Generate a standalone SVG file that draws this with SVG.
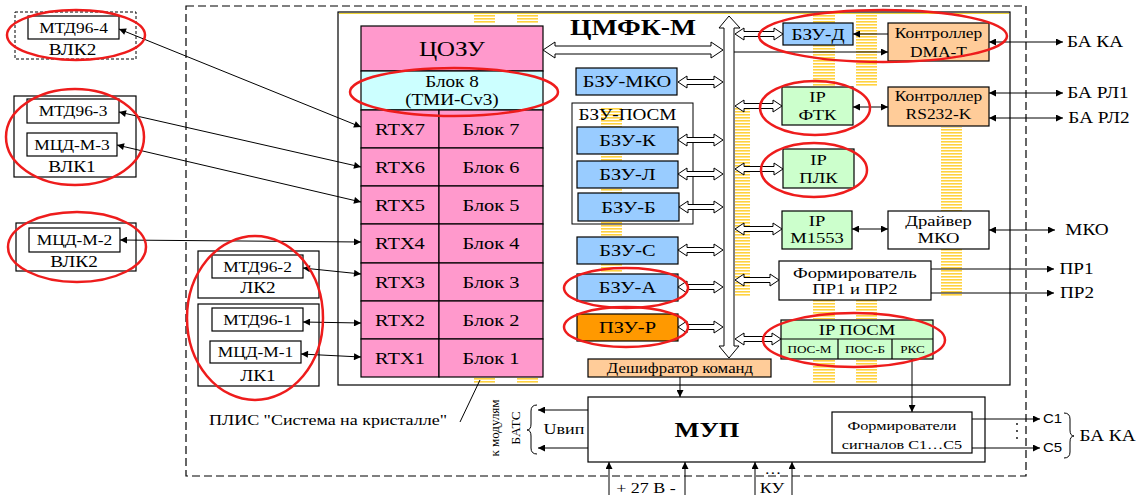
<svg xmlns="http://www.w3.org/2000/svg" width="1142" height="495" viewBox="0 0 1142 495">
<style>
.b{stroke:#000;stroke-width:1.2}
.t{font-family:"Liberation Serif","Times New Roman",serif;text-anchor:middle;fill:#000;transform-box:fill-box;transform-origin:center;transform:scaleX(1.2)}
.s{font-family:"Liberation Sans",Arial,sans-serif}
.r{font-family:"Liberation Serif","Times New Roman",serif;text-anchor:middle;fill:#000}
.ln{fill:none;stroke:#000;stroke-width:1}
.ha{fill:#fff;stroke:#000;stroke-width:1}
.red{fill:none;stroke:#EE1C1C;stroke-width:2.5}
.pk{fill:#FF99CC}
.bl{fill:#99CCFF}
.pc{fill:#FFCC99}
.gr{fill:#CCFFCC}
.wh{fill:#fff}
.ys{fill:url(#ys)}
</style>
<defs>
<pattern id="ys" width="6" height="3" patternUnits="userSpaceOnUse"><rect width="6" height="1.6" fill="#FFD23F"/></pattern>
<marker id="ah" viewBox="0 0 10 10" refX="10" refY="5" markerWidth="9" markerHeight="7" orient="auto-start-reverse" markerUnits="userSpaceOnUse"><path d="M0,0 L10,5 L0,10 z" fill="#000"/></marker>
</defs>
<rect width="1142" height="495" fill="#fff"/>

<!-- outer dashed frame -->
<rect x="186" y="6" width="840" height="470" fill="none" stroke="#000" stroke-width="1.2" stroke-dasharray="8,4"/>

<!-- ПЛИС box -->
<g id="plis">
<rect x="338" y="12" width="672" height="373" fill="#fff" stroke="#000" stroke-width="1.2"/>
<line x1="339" y1="13.5" x2="1009" y2="13.5" stroke="#E8C800" stroke-width="0.8"/>
</g>

<!-- yellow stripes -->
<g id="stripes">
<rect class="ys" x="474" y="14" width="21" height="10"/>
<rect class="ys" x="517" y="14" width="21" height="10"/>
<rect class="ys" x="474" y="378" width="21" height="6"/>
<rect class="ys" x="517" y="378" width="21" height="6"/>
<rect class="ys" x="601" y="107" width="21" height="165"/>
<rect class="ys" x="735" y="107" width="15" height="190"/>
<rect class="ys" x="813" y="14" width="22" height="73"/>
<rect class="ys" x="856" y="14" width="21" height="73"/>
<rect class="ys" x="941" y="127" width="21" height="170"/>
<rect class="ys" x="813" y="300" width="22" height="19"/>
<rect class="ys" x="856" y="300" width="21" height="19"/>
<rect class="ys" x="813" y="360" width="22" height="24"/>
<rect class="ys" x="856" y="360" width="21" height="24"/>
</g>

<text class="t" x="633" y="35" font-size="23" font-weight="bold">ЦМФК-М</text>

<!-- left external nodes -->
<g id="vlk2-top">
<rect x="15" y="12" width="121" height="47" fill="#fff" stroke="#000" stroke-width="1" stroke-dasharray="3,2"/>
<rect class="wh b" x="28" y="16" width="91" height="23"/>
<text class="t" x="73.5" y="33" font-size="14.5">МТД96-4</text>
<text class="t" x="72.5" y="55" font-size="16">ВЛК2</text>
</g>
<g id="vlk1">
<rect class="wh b" x="14" y="96" width="122" height="81"/>
<rect class="wh b" x="27" y="99" width="92" height="24"/>
<text class="t" x="73" y="116" font-size="14.5">МТД96-3</text>
<rect class="wh b" x="27" y="133" width="90" height="23"/>
<text class="t" x="72" y="150" font-size="14.5">МЦД-М-3</text>
<text class="t" x="72" y="172" font-size="16">ВЛК1</text>
</g>
<g id="vlk2-mid">
<rect class="wh b" x="16" y="223" width="120" height="48"/>
<rect class="wh b" x="29" y="228" width="91" height="24"/>
<text class="t" x="74.5" y="245" font-size="14.5">МЦД-М-2</text>
<text class="t" x="74" y="267" font-size="16">ВЛК2</text>
</g>
<g id="lk2">
<rect class="wh b" x="198" y="251" width="121" height="47"/>
<rect class="wh b" x="212" y="255" width="91" height="23"/>
<text class="t" x="257.5" y="272" font-size="14.5">МТД96-2</text>
<text class="t" x="258" y="293" font-size="16">ЛК2</text>
</g>
<g id="lk1">
<rect class="wh b" x="198" y="304" width="121" height="82"/>
<rect class="wh b" x="212" y="308" width="91" height="23"/>
<text class="t" x="257.5" y="325" font-size="14.5">МТД96-1</text>
<rect class="wh b" x="210" y="341" width="91" height="22"/>
<text class="t" x="255.5" y="357" font-size="14.5">МЦД-М-1</text>
<text class="t" x="258" y="381" font-size="16">ЛК1</text>
</g>

<text class="t" x="328" y="425" font-size="15">ПЛИС "Система на кристалле"</text>

<!-- memory column -->
<g id="cozu">
<rect class="pk b" x="361" y="26" width="182" height="45"/>
<text class="t" x="452" y="56" font-size="21">ЦОЗУ</text>
</g>
<g id="blok8">
<rect class="b" fill="#CCFFFF" x="361" y="71" width="182" height="39"/>
<text class="t" x="452" y="87" font-size="16">Блок 8</text>
<text class="t" x="452" y="105" font-size="16">(ТМИ-Cv3)</text>
</g>
<g id="row7"><rect class="pk b" x="361" y="110" width="78" height="38"/><rect class="pk b" x="439" y="110" width="104" height="38"/><text class="t" x="400" y="135" font-size="17">RTX7</text><text class="t" x="491" y="135" font-size="17">Блок 7</text></g>
<g id="row6"><rect class="pk b" x="361" y="148" width="78" height="38"/><rect class="pk b" x="439" y="148" width="104" height="38"/><text class="t" x="400" y="173" font-size="17">RTX6</text><text class="t" x="491" y="173" font-size="17">Блок 6</text></g>
<g id="row5"><rect class="pk b" x="361" y="186" width="78" height="38"/><rect class="pk b" x="439" y="186" width="104" height="38"/><text class="t" x="400" y="211" font-size="17">RTX5</text><text class="t" x="491" y="211" font-size="17">Блок 5</text></g>
<g id="row4"><rect class="pk b" x="361" y="224" width="78" height="39"/><rect class="pk b" x="439" y="224" width="104" height="39"/><text class="t" x="400" y="249.5" font-size="17">RTX4</text><text class="t" x="491" y="249.5" font-size="17">Блок 4</text></g>
<g id="row3"><rect class="pk b" x="361" y="263" width="78" height="38"/><rect class="pk b" x="439" y="263" width="104" height="38"/><text class="t" x="400" y="288" font-size="17">RTX3</text><text class="t" x="491" y="288" font-size="17">Блок 3</text></g>
<g id="row2"><rect class="pk b" x="361" y="301" width="78" height="38"/><rect class="pk b" x="439" y="301" width="104" height="38"/><text class="t" x="400" y="326" font-size="17">RTX2</text><text class="t" x="491" y="326" font-size="17">Блок 2</text></g>
<g id="row1"><rect class="pk b" x="361" y="339" width="78" height="38"/><rect class="pk b" x="439" y="339" width="104" height="38"/><text class="t" x="400" y="364" font-size="17">RTX1</text><text class="t" x="491" y="364" font-size="17">Блок 1</text></g>

<!-- BZU column -->
<g id="bzu-mko"><rect class="bl b" x="576" y="68" width="101" height="27"/><text class="t" x="627" y="87.5" font-size="17">БЗУ-МКО</text></g>
<g id="bzu-posm">
<rect x="572" y="103" width="121" height="121" fill="none" stroke="#000" stroke-width="1"/>
<text class="t" x="627.5" y="120" font-size="16">БЗУ-ПОСМ</text>
</g>
<g id="bzu-k"><rect class="bl b" x="577" y="127" width="101" height="27"/><text class="t" x="627.5" y="146.5" font-size="17">БЗУ-К</text></g>
<g id="bzu-l"><rect class="bl b" x="577" y="161" width="101" height="27"/><text class="t" x="627.5" y="180.5" font-size="17">БЗУ-Л</text></g>
<g id="bzu-b"><rect class="bl b" x="578" y="193" width="101" height="28"/><text class="t" x="628.5" y="213" font-size="17">БЗУ-Б</text></g>
<g id="bzu-s"><rect class="bl b" x="577" y="237" width="101" height="27"/><text class="t" x="627.5" y="256.5" font-size="17">БЗУ-С</text></g>
<g id="bzu-a"><rect class="bl b" x="577" y="274" width="101" height="27"/><text class="t" x="627.5" y="293.5" font-size="17">БЗУ-А</text></g>
<g id="pzu-r"><rect class="b" fill="#FF9900" x="577" y="314" width="101" height="27"/><text class="t" x="627.5" y="333.5" font-size="17">ПЗУ-Р</text></g>

<g id="deshifrator"><rect class="pc b" x="588" y="359" width="183" height="18"/><text class="t" x="680" y="373" font-size="14">Дешифратор команд</text></g>

<!-- right side nodes -->
<g id="bzu-d"><rect class="bl b" x="783" y="23" width="70" height="22"/><text class="t" x="818" y="40" font-size="16">БЗУ-Д</text></g>
<g id="dma-t"><rect class="pc b" x="888" y="23" width="101" height="38"/><text class="t" x="938.5" y="38" font-size="14.5">Контроллер</text><text class="t" x="938.5" y="57" font-size="14.5">DMA-T</text></g>
<g id="ip-ftk"><rect class="gr b" x="782" y="87" width="71" height="38"/><text class="t" x="817.5" y="102" font-size="15.5">IP</text><text class="t" x="817.5" y="120" font-size="15.5">ФТК</text></g>
<g id="rs232"><rect class="pc b" x="888" y="87" width="101" height="39"/><text class="t" x="938.5" y="101" font-size="14.5">Контроллер</text><text class="t" x="938.5" y="119" font-size="14.5">RS232-K</text></g>
<g id="ip-plk"><rect class="gr b" x="783" y="149" width="71" height="39"/><text class="t" x="818.5" y="165" font-size="15.5">IP</text><text class="t" x="818.5" y="183" font-size="15.5">ПЛК</text></g>
<g id="ip-m1553"><rect class="gr b" x="782" y="211" width="70" height="38"/><text class="t" x="817" y="226" font-size="15.5">IP</text><text class="t" x="817" y="243" font-size="15.5">M1553</text></g>
<g id="driver-mko"><rect class="wh b" x="888" y="211" width="101" height="38"/><text class="t" x="938.5" y="226" font-size="15.5">Драйвер</text><text class="t" x="938.5" y="243" font-size="15.5">МКО</text></g>
<g id="form-pr"><rect class="wh b" x="779" y="261" width="152" height="39"/><text class="t" x="855" y="278" font-size="15.5">Формирователь</text><text class="t" x="855" y="294" font-size="15.5">ПР1 и ПР2</text></g>
<g id="ip-posm">
<rect class="gr b" x="781" y="320" width="152" height="39"/>
<line class="b" x1="781" y1="339" x2="933" y2="339"/>
<line class="b" x1="838" y1="339" x2="838" y2="359"/>
<line class="b" x1="892" y1="339" x2="892" y2="359"/>
<text class="t" x="857" y="335" font-size="15.5">IP ПОСМ</text>
<text class="t" x="809.5" y="353.5" font-size="11">ПОС-М</text>
<text class="t" x="865" y="353.5" font-size="11">ПОС-Б</text>
<text class="t" x="912.5" y="353.5" font-size="11">РКС</text>
</g>

<!-- МУП -->
<g id="mup">
<rect class="wh b" x="588" y="397" width="397" height="65"/>
<text class="t" x="707" y="437" font-size="22" font-weight="bold">МУП</text>
</g>
<g id="form-c">
<rect class="wh b" x="832" y="412" width="140" height="41"/>
<text class="t" x="902" y="430" font-size="13.5">Формирователи</text>
<text class="t" x="902" y="449" font-size="13.5">сигналов С1…С5</text>
</g>

<!-- external labels -->
<g id="labels">
<text class="t" x="1095" y="47" font-size="16">БА КА</text>
<text class="t" x="1098" y="98" font-size="16">БА РЛ1</text>
<text class="t" x="1099" y="123" font-size="16">БА РЛ2</text>
<text class="t" x="1087" y="235" font-size="16">МКО</text>
<text class="t" x="1076.5" y="274" font-size="16">ПР1</text>
<text class="t" x="1077" y="298" font-size="16">ПР2</text>
<text class="t s" x="1052.5" y="423" font-size="12.5">C1</text>
<text class="t s" x="1052.5" y="452" font-size="12.5">C5</text>
<text class="t" x="1107.5" y="441" font-size="16">БА КА</text>
<text class="t" x="564" y="434" font-size="15">Uвип</text>
<text class="r" font-size="13" transform="translate(499,428) rotate(-90)">к модулям</text>
<text class="r" font-size="13.5" transform="translate(520,428) rotate(-90)">БАТС</text>
<text class="t" x="646" y="493" font-size="15">+ 27 В -</text>
<text class="t" x="772" y="493" font-size="15">КУ</text>
<text class="t" x="773" y="474" font-size="14">…</text>
</g>

<!-- connectors -->
<g id="connectors">
<path class="ha" d="M729,16 L740,28 L734,28 L734,346 L739,346 L729,358 L719,346 L724,346 L724,28 L719,28 Z"/>
<path class="ha" d="M543,50 L555,42 L555,46 L711,46 L711,42 L723,50 L711,58 L711,54 L555,54 L555,58 Z"/>
<path class="ha" d="M678,82 l9,-6 v3.5 H714 v-3.5 L723,82 l-9,6 v-3.5 H687 v3.5 Z"/>
<path class="ha" d="M678,140 l9,-6 v3.5 H714 v-3.5 L723,140 l-9,6 v-3.5 H687 v3.5 Z"/>
<path class="ha" d="M678,174 l9,-6 v3.5 H714 v-3.5 L723,174 l-9,6 v-3.5 H687 v3.5 Z"/>
<path class="ha" d="M679,207 l9,-6 v3.5 H714 v-3.5 L723,207 l-9,6 v-3.5 H688 v3.5 Z"/>
<path class="ha" d="M678,250 l9,-6 v3.5 H714 v-3.5 L723,250 l-9,6 v-3.5 H687 v3.5 Z"/>
<path class="ha" d="M678,287 l9,-6 v3.5 H714 v-3.5 L723,287 l-9,6 v-3.5 H687 v3.5 Z"/>
<path class="ha" d="M678,327 l9,-6 v3.5 H714 v-3.5 L723,327 l-9,6 v-3.5 H687 v3.5 Z"/>
<path class="ha" d="M735,34 l9,-6 v3.5 H774 v-3.5 L783,34 l-9,6 v-3.5 H744 v3.5 Z"/>
<path class="ha" d="M735,106 l9,-6 v3.5 H773 v-3.5 L782,106 l-9,6 v-3.5 H744 v3.5 Z"/>
<path class="ha" d="M735,169 l9,-6 v3.5 H774 v-3.5 L783,169 l-9,6 v-3.5 H744 v3.5 Z"/>
<path class="ha" d="M735,229 l9,-6 v3.5 H773 v-3.5 L782,229 l-9,6 v-3.5 H744 v3.5 Z"/>
<path class="ha" d="M735,280 l9,-6 v3.5 H770 v-3.5 L779,280 l-9,6 v-3.5 H744 v3.5 Z"/>
<path class="ha" d="M735,339 l9,-6 v3.5 H772 v-3.5 L781,339 l-9,6 v-3.5 H744 v3.5 Z"/>
<path class="ln" d="M888,34 H853" marker-end="url(#ah)"/>
<path class="ln" d="M734,52 H888" marker-end="url(#ah)"/>
<path class="ln" d="M989,42 H1063" marker-start="url(#ah)" marker-end="url(#ah)"/>
<path class="ln" d="M853,107 H888" marker-start="url(#ah)" marker-end="url(#ah)"/>
<path class="ln" d="M989,93 H1063" marker-start="url(#ah)" marker-end="url(#ah)"/>
<path class="ln" d="M989,118 H1063" marker-start="url(#ah)" marker-end="url(#ah)"/>
<path class="ln" d="M852,229 H888" marker-start="url(#ah)" marker-end="url(#ah)"/>
<path class="ln" d="M989,230 H1055" marker-start="url(#ah)" marker-end="url(#ah)"/>
<path class="ln" d="M931,269 H1054" marker-end="url(#ah)"/>
<path class="ln" d="M931,293 H1054" marker-end="url(#ah)"/>
<path class="ln" d="M912,359 V412" marker-end="url(#ah)"/>
<path class="ln" d="M680,377 V397" marker-end="url(#ah)"/>
<path class="ln" d="M588,410 H538" marker-end="url(#ah)"/>
<path class="ln" d="M588,448 H538" marker-end="url(#ah)"/>
<path class="ln" d="M972,419 H1040" marker-end="url(#ah)"/>
<path class="ln" d="M972,448 H1040" marker-end="url(#ah)"/>
<path class="ln" d="M609,495 V462" marker-end="url(#ah)"/>
<path class="ln" d="M685,495 V462" marker-end="url(#ah)"/>
<path class="ln" d="M755,495 V462" marker-end="url(#ah)"/>
<path class="ln" d="M792,495 V462" marker-end="url(#ah)"/>
<path class="ln" d="M119,29 L361,127" marker-start="url(#ah)" marker-end="url(#ah)"/>
<path class="ln" d="M119,112 L361,167" marker-start="url(#ah)" marker-end="url(#ah)"/>
<path class="ln" d="M117,145 L361,202" marker-start="url(#ah)" marker-end="url(#ah)"/>
<path class="ln" d="M120,240 L361,242" marker-start="url(#ah)" marker-end="url(#ah)"/>
<path class="ln" d="M303,268 L361,274" marker-start="url(#ah)" marker-end="url(#ah)"/>
<path class="ln" d="M303,322 L361,323" marker-start="url(#ah)" marker-end="url(#ah)"/>
<path class="ln" d="M301,354 L361,357" marker-start="url(#ah)" marker-end="url(#ah)"/>
<path class="ln" d="M460,422 L480,380"/>
<path class="ln" d="M537,405 Q531,405 531,411 L531,424 Q531,430 527,430 Q531,430 531,436 L531,448 Q531,454 537,454"/>
<path class="ln" d="M1064,413 Q1070,413 1070,419 L1070,430 Q1070,436 1074,436 Q1070,436 1070,442 L1070,452 Q1070,458 1064,458"/>
<circle cx="1017" cy="424" r="0.9" fill="#000"/>
<circle cx="1017" cy="431" r="0.9" fill="#000"/>
<circle cx="1017" cy="438" r="0.9" fill="#000"/>
</g>

<!-- red highlight ellipses -->
<g id="highlights">
<ellipse class="red" cx="76" cy="35" rx="69" ry="25"/>
<ellipse class="red" cx="75" cy="137" rx="69" ry="48"/>
<ellipse class="red" cx="77" cy="247" rx="69" ry="35"/>
<ellipse class="red" cx="255" cy="318" rx="68" ry="82"/>
<ellipse class="red" cx="454" cy="92" rx="104" ry="24"/>
<ellipse class="red" cx="626" cy="288" rx="62" ry="20"/>
<ellipse class="red" cx="626" cy="327" rx="62" ry="20"/>
<ellipse class="red" cx="883" cy="36" rx="124" ry="26"/>
<ellipse class="red" cx="815" cy="108" rx="55" ry="27"/>
<ellipse class="red" cx="814" cy="170" rx="53" ry="27"/>
<ellipse class="red" cx="854" cy="340" rx="91" ry="27"/>
</g>
</svg>
